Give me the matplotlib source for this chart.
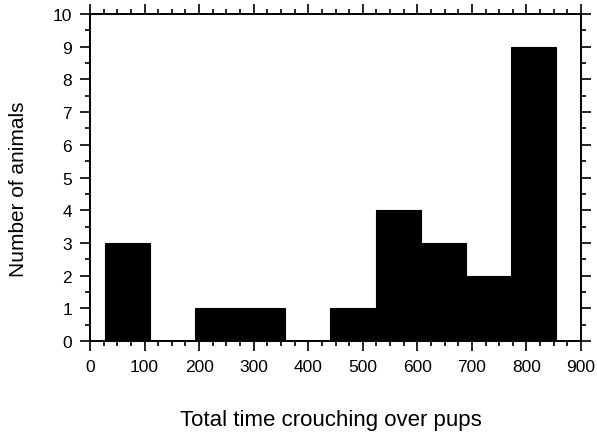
import numpy as np
import matplotlib
matplotlib.use("Agg")
import matplotlib.pyplot as plt
from matplotlib.ticker import MultipleLocator

# histogram bins
bin_edges = [27.5, 110.2, 192.8, 275.5, 358.1, 440.8, 523.4, 606.1, 688.7, 771.4, 854.0]
counts = [3, 0, 1, 1, 0, 1, 4, 3, 2, 9]

plt.rcParams.update({
    'font.family': ['Liberation Sans', 'DejaVu Sans'],
    'font.size': 12.5,
})

fig = plt.figure(figsize=(5.97, 4.35), dpi=100)
ax = fig.add_axes([0.1508, 0.2138, 0.8224, 0.7517])

centers = 0.5 * (np.array(bin_edges[:-1]) + np.array(bin_edges[1:]))
ax.hist(centers, bins=bin_edges, weights=counts, color='black',
        edgecolor='black', linewidth=0.8, histtype='stepfilled')
ax.hlines(0, bin_edges[0], bin_edges[-1], color='black', linewidth=1.2)

ax.set_xlim(0, 900)
ax.set_ylim(0, 10)
ax.xaxis.set_major_locator(MultipleLocator(100))
ax.xaxis.set_minor_locator(MultipleLocator(25))
ax.yaxis.set_major_locator(MultipleLocator(1))
ax.yaxis.set_minor_locator(MultipleLocator(0.5))

for s in ax.spines.values():
    s.set_linewidth(1.4)
ax.tick_params(which='both', direction='out', top=True, right=True,
               labeltop=False, labelright=False, width=1.2, labelsize=12.5)
ax.tick_params(which='major', length=7, pad=6)
ax.tick_params(which='minor', length=3.5)

ax.set_xlabel("Total time crouching over pups", fontsize=16)
ax.xaxis.set_label_coords(0.49, -0.207)
ax.set_ylabel("Number of animals", fontsize=15)
ax.yaxis.set_label_coords(-0.126, 0.466)

fig.savefig("out.png", dpi=100)
